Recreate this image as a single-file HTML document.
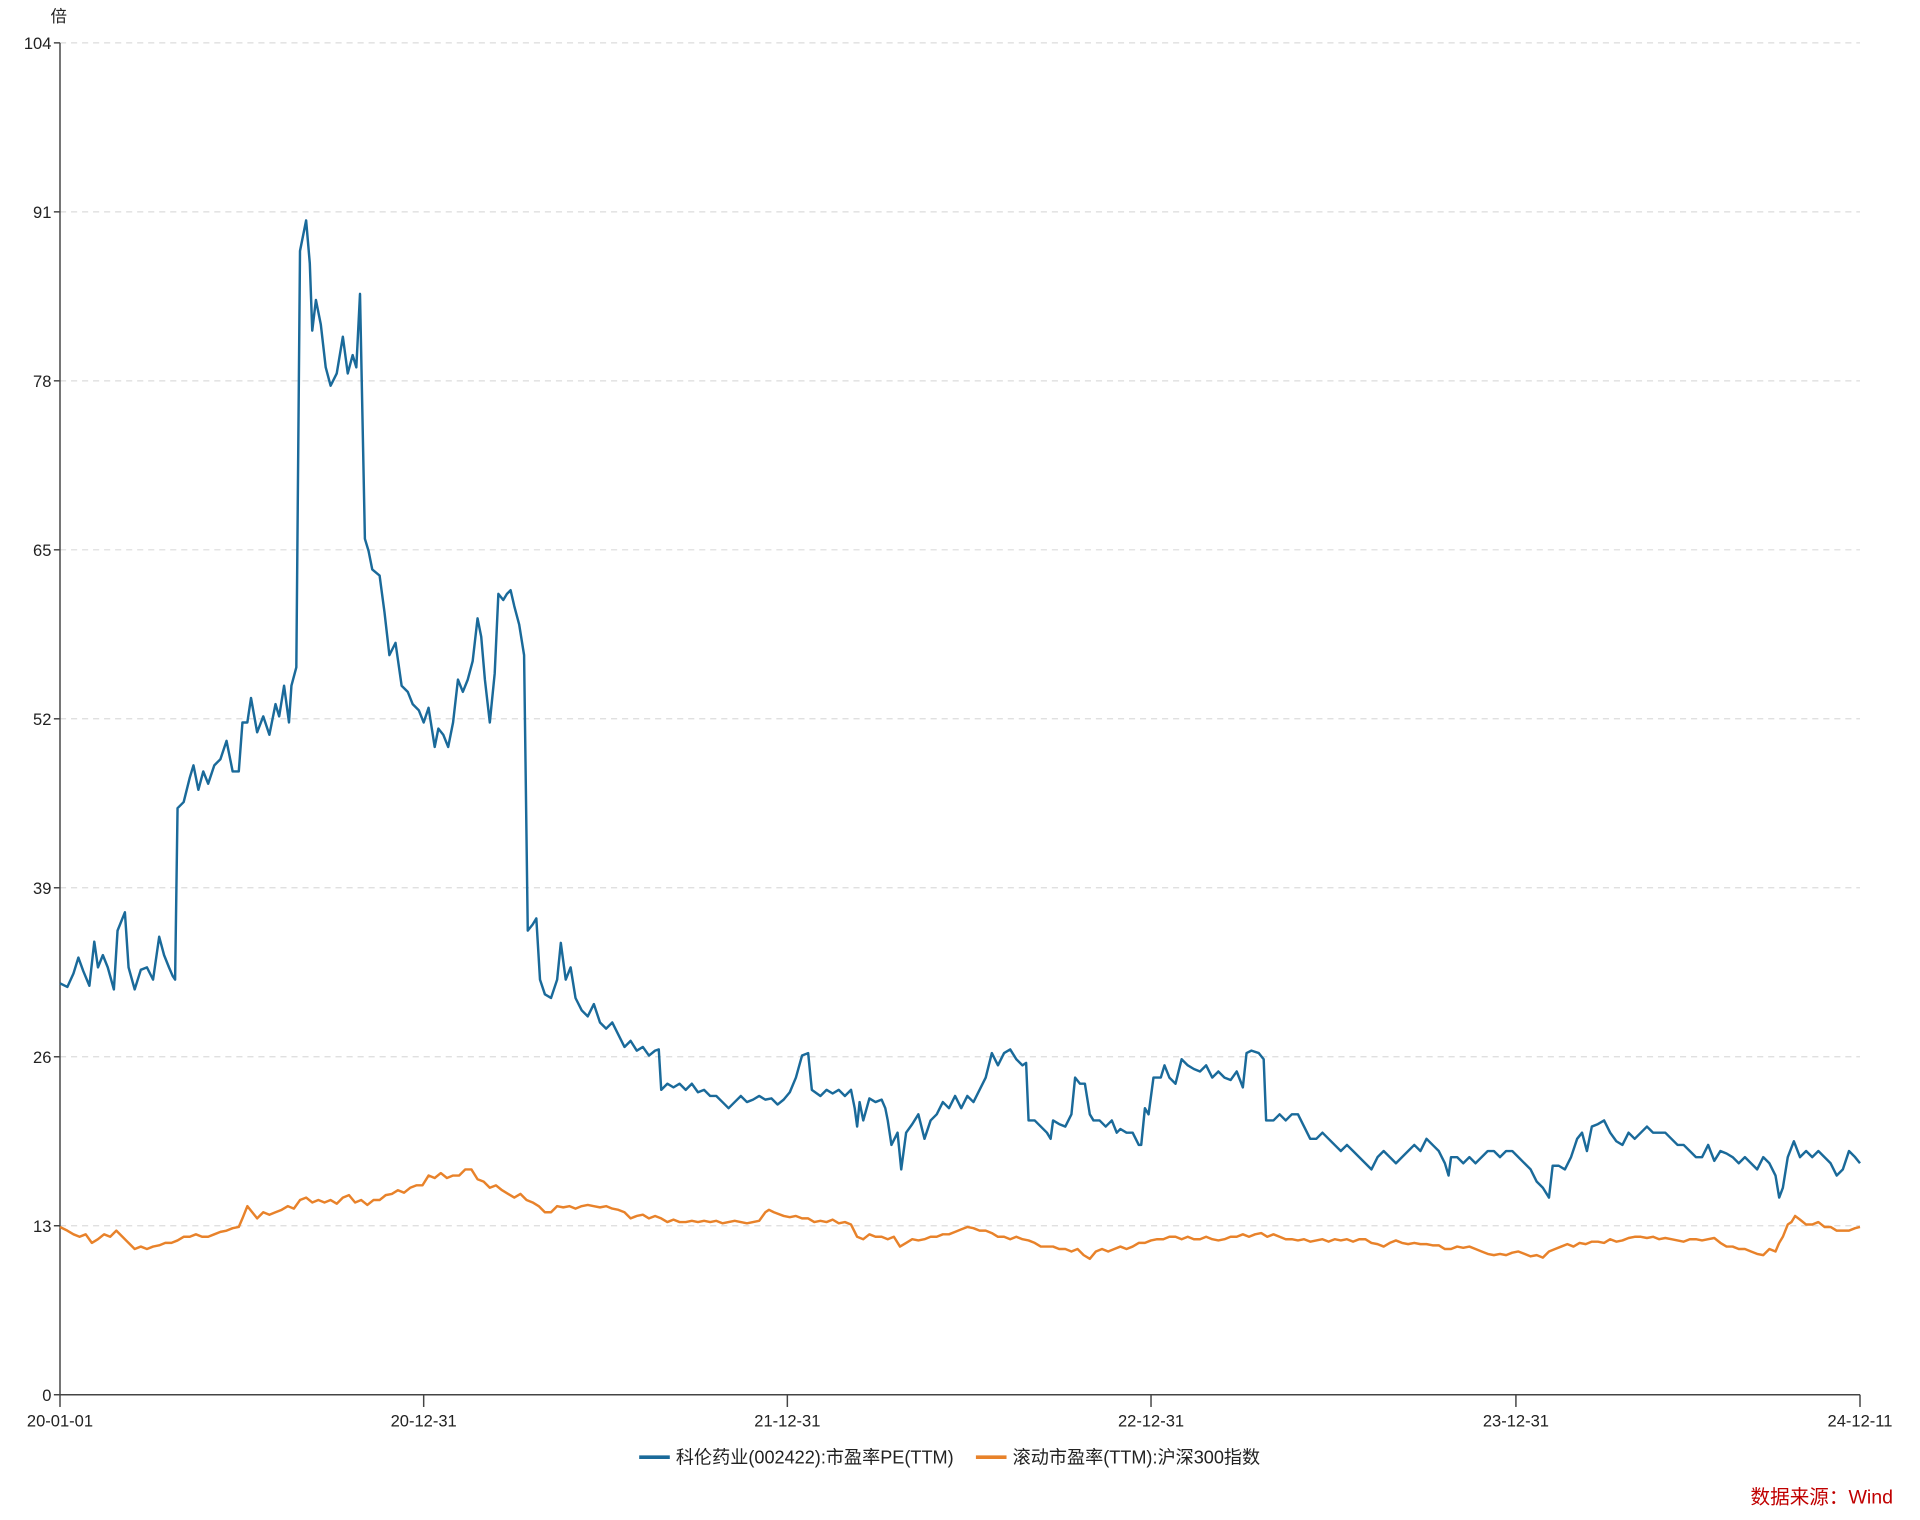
<!DOCTYPE html>
<html><head><meta charset="utf-8"><style>
html,body{margin:0;padding:0;background:#fff;}
svg{display:block;}
text{font-family:"Liberation Sans","Noto Sans CJK SC",sans-serif;}
</style></head><body>
<svg width="1920" height="1520" viewBox="0 0 1568 1241.3" preserveAspectRatio="none" xmlns="http://www.w3.org/2000/svg">
<g stroke="#dcdcdc" stroke-width="1" stroke-dasharray="5,4">
<line x1="49" y1="35" x2="1519" y2="35"/>
<line x1="49" y1="173" x2="1519" y2="173"/>
<line x1="49" y1="311" x2="1519" y2="311"/>
<line x1="49" y1="449" x2="1519" y2="449"/>
<line x1="49" y1="587" x2="1519" y2="587"/>
<line x1="49" y1="725" x2="1519" y2="725"/>
<line x1="49" y1="863" x2="1519" y2="863"/>
<line x1="49" y1="1001" x2="1519" y2="1001"/>
</g>
<g stroke="#444" stroke-width="1.2" fill="none">
<line x1="49" y1="35" x2="49" y2="1139"/>
<line x1="49" y1="1139" x2="1519" y2="1139"/>
<line x1="44" y1="35" x2="49" y2="35"/><line x1="44" y1="173" x2="49" y2="173"/><line x1="44" y1="311" x2="49" y2="311"/><line x1="44" y1="449" x2="49" y2="449"/><line x1="44" y1="587" x2="49" y2="587"/><line x1="44" y1="725" x2="49" y2="725"/><line x1="44" y1="863" x2="49" y2="863"/><line x1="44" y1="1001" x2="49" y2="1001"/><line x1="44" y1="1139" x2="49" y2="1139"/>
<line x1="49" y1="1139" x2="49" y2="1149"/><line x1="346" y1="1139" x2="346" y2="1149"/><line x1="643" y1="1139" x2="643" y2="1149"/><line x1="940" y1="1139" x2="940" y2="1149"/><line x1="1238" y1="1139" x2="1238" y2="1149"/><line x1="1519" y1="1139" x2="1519" y2="1149"/>
</g>
<g font-size="13.5" fill="#222" text-anchor="end">
<text x="42" y="40">104</text><text x="42" y="178">91</text><text x="42" y="316">78</text><text x="42" y="454">65</text><text x="42" y="592">52</text><text x="42" y="730">39</text><text x="42" y="868">26</text><text x="42" y="1006">13</text><text x="42" y="1144">0</text>
</g>
<text x="48" y="18" font-size="13.5" fill="#222" text-anchor="middle">倍</text>
<g font-size="13.5" fill="#222" text-anchor="middle">
<text x="49" y="1165">20-01-01</text><text x="346" y="1165">20-12-31</text><text x="643" y="1165">21-12-31</text><text x="940" y="1165">22-12-31</text><text x="1238" y="1165">23-12-31</text><text x="1519" y="1165">24-12-11</text>
</g>
<polyline fill="none" stroke="#e8822a" stroke-width="2" stroke-linejoin="round" points="49,1002 55,1005 60,1008 65,1010 70,1008 75,1015 80,1012 85,1008 90,1010 95,1005 100,1010 105,1015 110,1020 115,1018 120,1020 125,1018 130,1017 135,1015 140,1015 145,1013 150,1010 155,1010 160,1008 165,1010 170,1010 175,1008 180,1006 185,1005 190,1003 195,1002 198,995 202,985 206,990 210,995 215,990 220,992 225,990 230,988 235,985 240,987 245,980 250,978 255,982 260,980 265,982 270,980 275,983 280,978 285,976 290,982 295,980 300,984 305,980 310,980 315,976 320,975 325,972 330,974 335,970 340,968 345,968 350,960 355,962 360,958 365,962 370,960 375,960 380,955 385,955 390,963 395,965 400,970 405,968 410,972 415,975 420,978 425,975 430,980 435,982 440,985 445,990 450,990 455,985 460,986 465,985 470,987 475,985 480,984 485,985 490,986 495,985 500,987 505,988 510,990 515,995 520,993 525,992 530,995 535,993 540,995 545,998 550,996 555,998 560,998 565,997 570,998 575,997 580,998 585,997 590,999 595,998 600,997 605,998 610,999 615,998 620,997 625,990 628,988 632,990 640,993 645,994 650,993 655,995 660,995 665,998 670,997 675,998 680,996 685,999 690,998 695,1000 700,1010 705,1012 710,1008 715,1010 720,1010 725,1012 730,1010 735,1018 740,1015 745,1012 750,1013 755,1012 760,1010 765,1010 770,1008 775,1008 780,1006 785,1004 790,1002 795,1003 800,1005 805,1005 810,1007 815,1010 820,1010 825,1012 830,1010 835,1012 840,1013 845,1015 850,1018 855,1018 860,1018 865,1020 870,1020 875,1022 880,1020 885,1025 890,1028 895,1022 900,1020 905,1022 910,1020 915,1018 920,1020 925,1018 930,1015 935,1015 940,1013 945,1012 950,1012 955,1010 960,1010 965,1012 970,1010 975,1012 980,1012 985,1010 990,1012 995,1013 1000,1012 1005,1010 1010,1010 1015,1008 1020,1010 1025,1008 1030,1007 1035,1010 1040,1008 1045,1010 1050,1012 1055,1012 1060,1013 1065,1012 1070,1014 1075,1013 1080,1012 1085,1014 1090,1012 1095,1013 1100,1012 1105,1014 1110,1012 1115,1012 1120,1015 1125,1016 1130,1018 1135,1015 1140,1013 1145,1015 1150,1016 1155,1015 1160,1016 1165,1016 1170,1017 1175,1017 1180,1020 1185,1020 1190,1018 1195,1019 1200,1018 1205,1020 1210,1022 1215,1024 1220,1025 1225,1024 1230,1025 1235,1023 1240,1022 1245,1024 1250,1026 1255,1025 1260,1027 1265,1022 1270,1020 1275,1018 1280,1016 1285,1018 1290,1015 1295,1016 1300,1014 1305,1014 1310,1015 1315,1012 1320,1014 1325,1013 1330,1011 1335,1010 1340,1010 1345,1011 1350,1010 1355,1012 1360,1011 1365,1012 1370,1013 1375,1014 1380,1012 1385,1012 1390,1013 1395,1012 1400,1011 1405,1015 1410,1018 1415,1018 1420,1020 1425,1020 1430,1022 1435,1024 1440,1025 1445,1020 1450,1022 1453,1015 1456,1010 1460,1000 1463,998 1466,993 1470,996 1475,1000 1480,1000 1485,998 1490,1002 1495,1002 1500,1005 1505,1005 1510,1005 1515,1003 1519,1002"/>
<polyline fill="none" stroke="#1a6a9a" stroke-width="2" stroke-linejoin="round" points="49,803 55,806 60,795 64,782 68,793 73,805 77,769 80,790 84,780 88,790 93,808 96,760 102,745 105,790 110,808 115,792 120,790 125,800 130,765 134,780 138,790 141,797 143,800 145,660 150,655 155,635 158,625 162,645 166,630 170,640 175,625 180,620 185,605 190,630 195,630 198,590 202,590 205,570 210,598 215,585 220,600 225,575 228,585 232,560 236,590 238,560 242,545 245,205 248,190 250,180 253,215 255,270 258,245 262,265 266,300 270,315 275,305 280,275 284,305 288,290 291,300 294,240 298,440 301,450 304,465 310,470 314,500 318,535 323,525 328,560 333,565 337,575 342,580 346,590 350,578 355,610 358,595 362,600 366,610 370,590 374,555 378,565 382,555 386,540 390,505 393,520 396,555 400,590 404,550 407,485 411,490 414,485 417,482 420,495 424,510 428,535 431,760 435,755 438,750 441,800 445,812 450,815 455,800 458,770 462,800 466,790 470,815 475,825 480,830 485,820 490,835 495,840 500,835 505,845 510,855 515,850 520,858 525,855 530,862 535,858 538,857 540,890 545,885 550,888 555,885 560,890 565,885 570,892 575,890 580,895 585,895 590,900 595,905 600,900 605,895 610,900 615,898 620,895 625,898 630,897 635,902 640,898 645,892 650,880 655,862 660,860 663,890 670,895 675,890 680,893 685,890 690,895 695,890 698,905 700,920 702,900 705,915 710,897 715,900 720,898 723,905 725,915 728,935 733,925 736,955 740,925 745,918 750,910 755,930 760,915 765,910 770,900 775,905 780,895 785,905 790,895 795,900 800,890 805,880 810,860 815,870 820,860 825,857 830,865 835,870 838,868 840,915 845,915 850,920 855,925 858,930 860,915 865,918 870,920 875,910 878,880 882,885 886,885 890,910 893,915 898,915 903,920 908,915 912,925 915,922 920,925 925,925 930,935 932,935 935,905 938,910 942,880 945,880 948,880 951,870 955,880 960,885 965,865 970,870 975,873 980,875 985,870 990,880 995,875 1000,880 1005,882 1010,875 1015,888 1018,860 1022,858 1028,860 1032,865 1034,915 1040,915 1045,910 1050,915 1055,910 1060,910 1065,920 1070,930 1075,930 1080,925 1085,930 1090,935 1095,940 1100,935 1105,940 1110,945 1115,950 1120,955 1125,945 1130,940 1135,945 1140,950 1145,945 1150,940 1155,935 1160,940 1165,930 1170,935 1175,940 1180,950 1183,960 1185,945 1190,945 1195,950 1200,945 1205,950 1210,945 1215,940 1220,940 1225,945 1230,940 1235,940 1240,945 1245,950 1250,955 1255,965 1260,970 1265,978 1268,952 1273,952 1278,955 1283,945 1288,930 1292,925 1296,940 1300,920 1305,918 1310,915 1315,925 1320,932 1325,935 1330,925 1335,930 1340,925 1345,920 1350,925 1355,925 1360,925 1365,930 1370,935 1375,935 1380,940 1385,945 1390,945 1395,935 1400,948 1405,940 1410,942 1415,945 1420,950 1425,945 1430,950 1435,955 1440,945 1445,950 1450,960 1453,978 1456,970 1460,945 1465,932 1470,945 1475,940 1480,945 1485,940 1490,945 1495,950 1500,960 1505,955 1510,940 1515,945 1519,950"/>
<line x1="522" y1="1190" x2="547" y2="1190" stroke="#1a6a9a" stroke-width="3"/>
<text x="552" y="1195" font-size="14.8" fill="#222">科伦药业(002422):市盈率PE(TTM)</text>
<line x1="797" y1="1190" x2="822" y2="1190" stroke="#e8822a" stroke-width="3"/>
<text x="827" y="1195" font-size="14.8" fill="#222">滚动市盈率(TTM):沪深300指数</text>
<text x="1546" y="1228" font-size="16" fill="#c00000" text-anchor="end">数据来源：Wind</text>
</svg>
</body></html>
